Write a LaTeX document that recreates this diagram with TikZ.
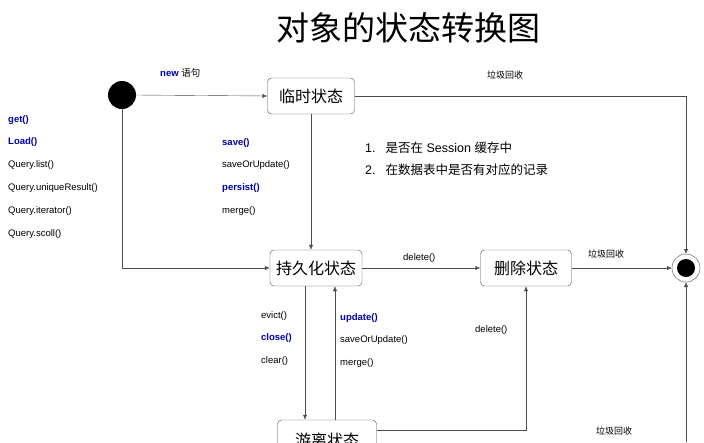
\documentclass[tikz,border=0pt]{standalone}
\usepackage{fontspec}
\setmainfont{Liberation Sans}
\newfontfamily\cjk{Noto Sans CJK SC}
\usetikzlibrary{arrows.meta,positioning}

\begin{document}
\begin{tikzpicture}[x=1pt,y=-1pt,
  st/.style={draw=black!70,rounded corners=4pt,fill=white,inner sep=3pt,
    minimum height=36pt,font=\cjk\fontsize{16}{16}\selectfont},
  tr/.style={draw=black!70,-{Latex[length=5pt,width=4pt]}},
  lbl/.style={anchor=west,font=\fontsize{9.5}{10}\selectfont,inner sep=0pt},
  key/.style={lbl,text=blue!70!black,font=\bfseries\fontsize{9.5}{10}\selectfont}]

  \useasboundingbox (0,0) rectangle (704,442);
  \clip (0,0) rectangle (704,442);

  \node[font=\cjk\fontsize{33}{33}\selectfont] (title) at (408,28) {对象的状态转换图};

  % states
  \fill (122,95) circle (14pt);
  \coordinate (start) at (122,95);
  \node[st,minimum width=87pt] (temp) at (311,96) {临时状态};
  \node[st,minimum width=92pt] (pers) at (316,268) {持久化状态};
  \node[st,minimum width=91pt] (del) at (526,268) {删除状态};
  \node[st,minimum width=99pt,minimum height=40pt] (det) at (327,440) {游离状态};
  \draw[black!70] (686,268) circle (14pt);
  \fill (686,268) circle (9pt);
  \coordinate (end) at (686,268);
  \coordinate (endN) at (686,254);
  \coordinate (endS) at (686,282);
  \coordinate (endW) at (672,268);

  % transitions
  \draw[tr] (start) ++(14,0) -- (temp.west);
  \draw[tr] (temp.east) -- (686,96) -- (endN);
  \draw[tr] (temp.south) -- (pers.north -| temp.south);
  \draw[tr] (start) ++(0,14) -- (122,268) -- (pers.west);
  \draw[tr] (pers.east) -- (del.west);
  \draw[tr] (del.east) -- (endW);
  \draw[tr] ([xshift=-11pt]pers.south) -- ([xshift=-22pt]det.north);
  \draw[tr] ([xshift=8pt]det.north) -- ([xshift=19pt]pers.south);
  \draw[tr] ([yshift=10pt]det.east) -- (526,430) -- (del.south);
  \draw[tr] (686,442) -- (endS);

  % labels
  \node[lbl] (lnew) at (160,73) {\textbf{\textcolor{blue!70!black}{new}} {\cjk 语句}};
  \node[lbl,font=\cjk\fontsize{9}{10}\selectfont] (lgc1) at (487,75) {垃圾回收};
  \node[lbl,font=\cjk\fontsize{9}{10}\selectfont] (lgc2) at (588,254) {垃圾回收};
  \node[lbl,font=\cjk\fontsize{9}{10}\selectfont] (lgc3) at (596,431) {垃圾回收};
  \node[lbl] (ldel1) at (403,258) {delete()};
  \node[lbl] (ldel2) at (475,330) {delete()};

  \node[key] (lget) at (8,120) {get()};
  \node[key] (lload) at (8,142) {Load()};
  \node[lbl] (llist) at (8,165) {Query.list()};
  \node[lbl] (luniq) at (8,188) {Query.uniqueResult()};
  \node[lbl] (liter) at (8,211) {Query.iterator()};
  \node[lbl] (lscoll) at (8,234) {Query.scoll()};

  \node[key] (lsave) at (222,143) {save()};
  \node[lbl] (lsou1) at (222,165) {saveOrUpdate()};
  \node[key] (lpersist) at (222,188) {persist()};
  \node[lbl] (lmerge1) at (222,211) {merge()};

  \node[lbl] (levict) at (261,316) {evict()};
  \node[key] (lclose) at (261,338) {close()};
  \node[lbl] (lclear) at (261,361) {clear()};

  \node[key] (lupd) at (340,318) {update()};
  \node[lbl] (lsou2) at (340,340) {saveOrUpdate()};
  \node[lbl] (lmerge2) at (340,363) {merge()};

  \node[lbl,font=\fontsize{12.5}{14}\selectfont] (note1) at (365,148) {1.\hspace{10pt}{\cjk 是否在} Session {\cjk 缓存中}};
  \node[lbl,font=\fontsize{12.5}{14}\selectfont] (note2) at (365,170) {2.\hspace{10pt}{\cjk 在数据表中是否有对应的记录}};
\end{tikzpicture}
\end{document}
